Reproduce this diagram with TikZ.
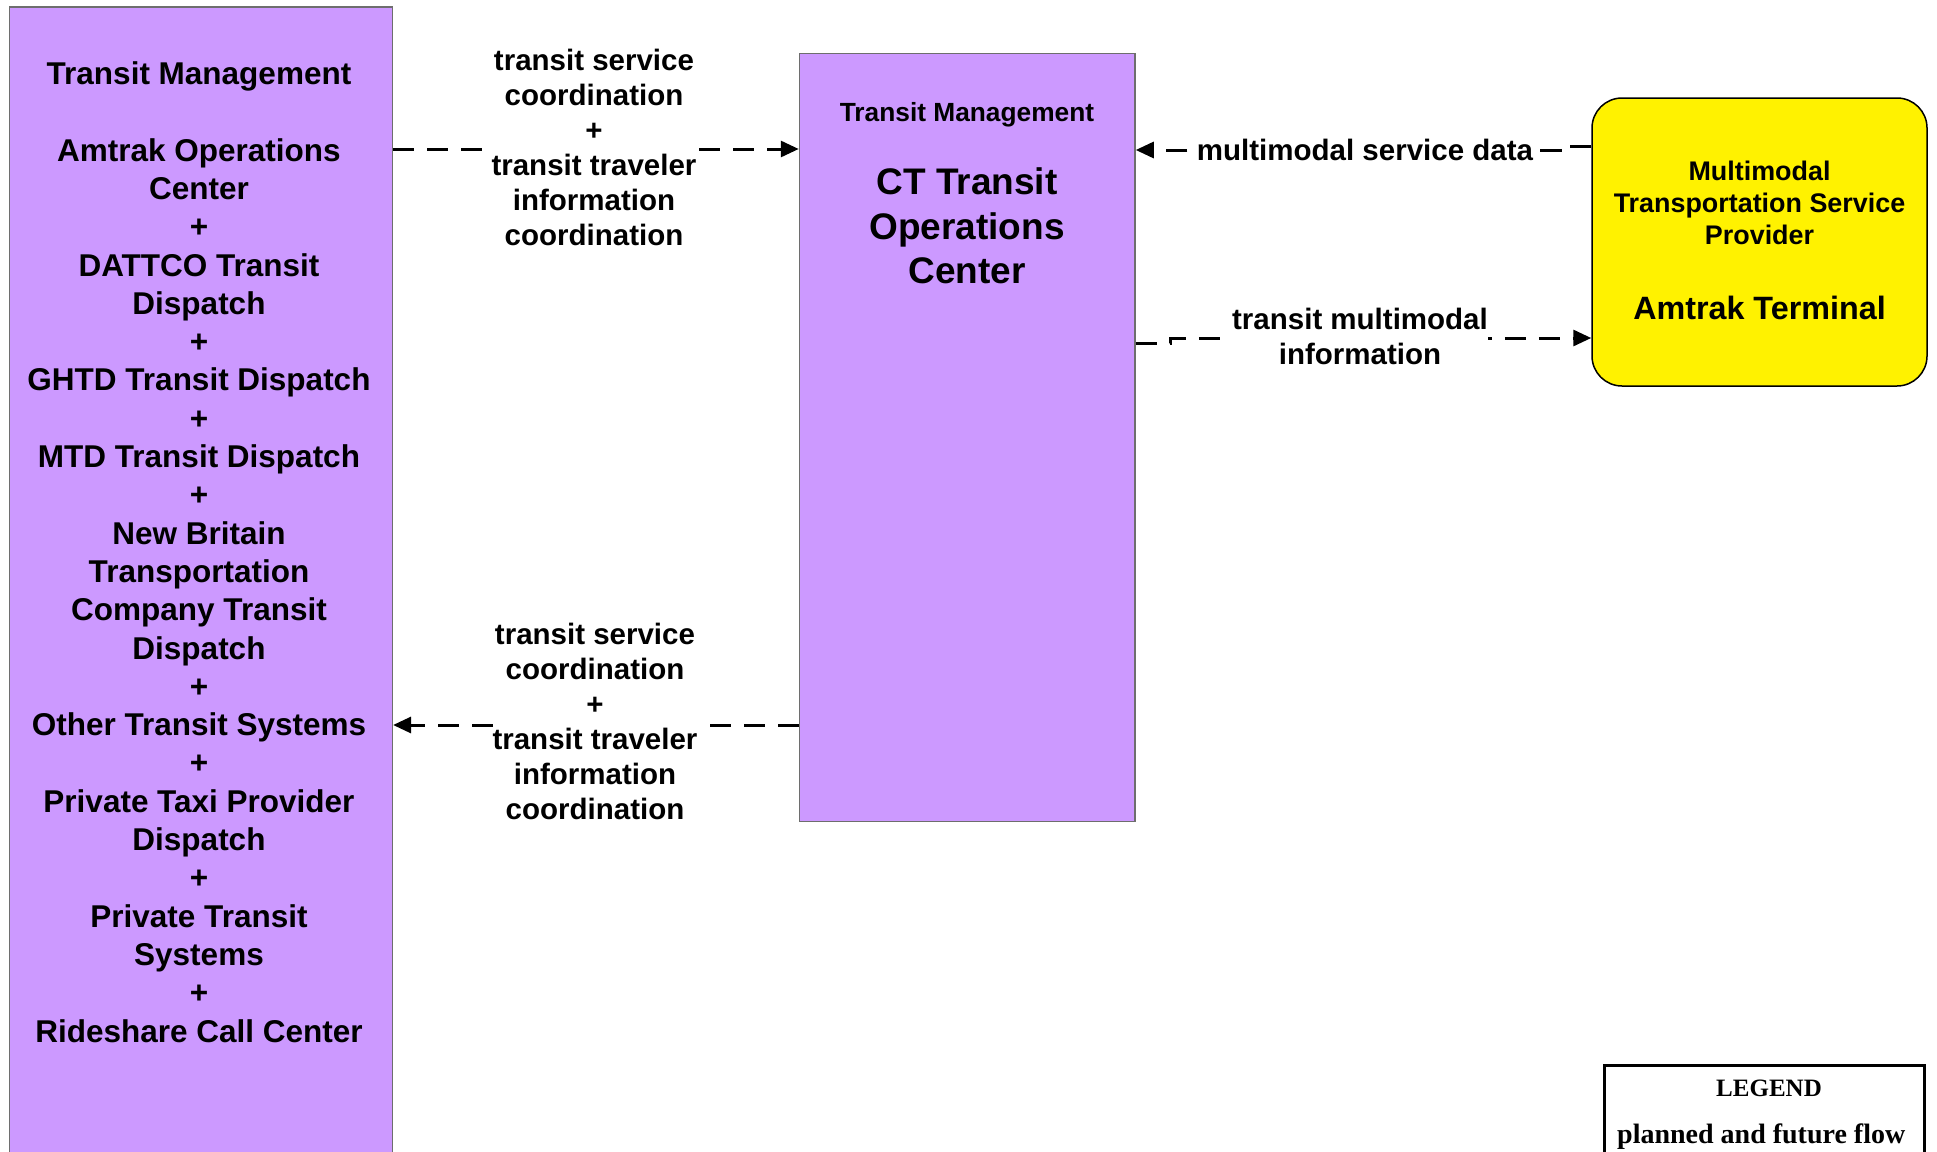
\documentclass[tikz,border=0pt]{standalone}
\usepackage{fontspec}
\setmainfont{Liberation Sans}
\newfontfamily\legfont{Liberation Serif}
\usetikzlibrary{arrows.meta}
\definecolor{tmpurple}{RGB}{204,153,255}
\definecolor{tmborder}{RGB}{110,110,110}
\begin{document}
\begin{tikzpicture}[x=1pt,y=-1pt,
  box/.style={draw=tmborder, line width=1.5pt, fill=tmpurple, inner sep=0pt},
  flow/.style={line width=3pt, dash pattern=on 21pt off 13pt, -{Triangle[length=18pt,width=16pt]}},
  lbl/.style={fill=white, inner sep=0pt, align=center, font=\bfseries\fontsize{29.5}{35}\selectfont},
  boxtext/.style={align=center, inner sep=0pt}
]
\clip (0,0) rectangle (1937,1151);
\fill[white] (0,0) rectangle (1937,1151);

% left box
\node[box, minimum width=383pt, minimum height=1170pt, anchor=north west] (tm) at (8.6,6) {};
\node[boxtext, font=\bfseries\fontsize{31.5}{38.3}\selectfont] (tmtext) at (199,552)
 {Transit Management\\[38.3pt]Amtrak Operations\\Center\\+\\DATTCO Transit\\Dispatch\\+\\GHTD Transit Dispatch\\+\\MTD Transit Dispatch\\+\\New Britain\\Transportation\\Company Transit\\Dispatch\\+\\Other Transit Systems\\+\\Private Taxi Provider\\Dispatch\\+\\Private Transit\\Systems\\+\\Rideshare Call Center};

% center box
\node[box, minimum width=335.5pt, minimum height=768pt] (ctoc) at (967.25,437.5) {};
\node[boxtext, font=\bfseries\fontsize{26.3}{31}\selectfont] (ctocclass) at (967,114.5) {Transit Management};
\node[boxtext, font=\bfseries\fontsize{37}{44.5}\selectfont] (ctocname) at (967,226) {CT Transit\\Operations\\Center};

% yellow box
\node[draw=black, line width=1.5pt, fill=yellow, rounded corners=30pt, minimum width=335pt, minimum height=288pt, inner sep=0pt] (mtsp) at (1759.5,242) {};
\node[boxtext, font=\bfseries\fontsize{26.9}{32}\selectfont] (mtspclass) at (1759.5,202.6) {Multimodal\\Transportation Service\\Provider};
\node[boxtext, font=\bfseries\fontsize{32.3}{38}\selectfont] (mtspname) at (1759.5,307.6) {Amtrak Terminal};

% flows
\draw[flow] (tm.east |- 0,149) -- (ctoc.west |- 0,149);
\draw[flow] (ctoc.west |- 0,725) -- (tm.east |- 0,725);
\draw[flow] (mtsp.west |- 0,146) -- (1560,146) -- (1560,150) -- (ctoc.east |- 0,150);
\draw[flow] (ctoc.east |- 0,343) -- (1170,343) -- (1170,338) -- (mtsp.west |- 0,338);

% flow labels
\node[lbl] (l1) at (594,147) {transit service\\coordination\\+\\transit traveler\\information\\coordination};
\node[lbl] (l2) at (595,721.4) {transit service\\coordination\\+\\transit traveler\\information\\coordination};
\node[lbl] (l3) at (1365,149.5) {multimodal service data};
\node[lbl] (l4) at (1360,336) {transit multimodal\\information};

% legend
\node[draw=black, line width=3pt, minimum width=320pt, minimum height=160pt, anchor=north west, inner sep=0pt] (legend) at (1603,1064) {};
\node[inner sep=0pt, anchor=base, font=\legfont\bfseries\fontsize{25}{30}\selectfont] (legtitle) at (1769,1096) {LEGEND};
\node[inner sep=0pt, anchor=base west, font=\legfont\bfseries\fontsize{28}{33}\selectfont] (legflow) at (1617,1143) {planned and future flow};
\end{tikzpicture}
\end{document}
